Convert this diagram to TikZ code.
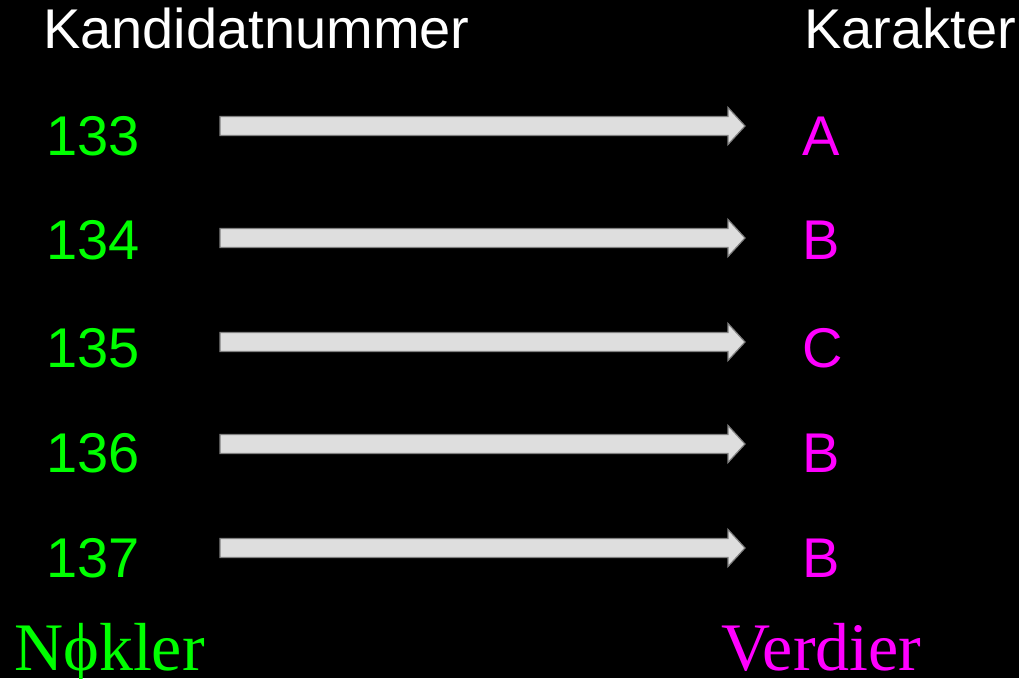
\documentclass[tikz,border=0pt]{standalone}
\usepackage{fontspec}
\setmainfont{Liberation Sans}
\newfontfamily\serifface{Liberation Serif}
\usetikzlibrary{calc}
\definecolor{keygreen}{RGB}{0,255,0}
\definecolor{valpink}{RGB}{255,0,255}
\definecolor{arrowfill}{RGB}{222,222,222}
\definecolor{arrowedge}{RGB}{128,128,128}
\tikzset{
  header/.style={anchor=base west, inner sep=0pt, text=white, font=\fontsize{56}{60}\selectfont},
  keytext/.style={anchor=base west, inner sep=0pt, text=keygreen, font=\fontsize{56}{60}\selectfont},
  valtext/.style={anchor=base west, inner sep=0pt, text=valpink, font=\fontsize{56}{60}\selectfont},
  biglabel/.style={anchor=base west, inner sep=0pt, font=\serifface\fontsize{68}{72}\selectfont},
  fatarrow/.style={fill=arrowfill, draw=arrowedge, line width=1.2pt, line join=miter}
}
\begin{document}
\begin{tikzpicture}[x=1pt,y=-1pt]
\fill[black] (0,0) rectangle (1019,678);
\useasboundingbox (0,0) rectangle (1019,678);
\node[header] (hk) at (43,48) {Kandidatnummer};
\node[header] (hv) at (804,48) {Karakter};
\foreach \n/\v/\b/\c [count=\i] in {133/A/155/126, 134/B/259/238, 135/C/367/342, 136/B/472/444, 137/B/577/548}{
  \node[keytext] (k\i) at (46,\b) {\n};
  \node[valtext] (v\i) at (802,\b) {\v};
  \coordinate (s\i) at (220,\c);
  \coordinate (t\i) at (745,\c);
  \draw[fatarrow] ($(s\i)+(0,-9.5)$) -- ($(t\i)+(-17,-9.5)$) -- ($(t\i)+(-17,-18.5)$) -- (t\i)
    -- ($(t\i)+(-17,18.5)$) -- ($(t\i)+(-17,9.5)$) -- ($(s\i)+(0,9.5)$) -- cycle;
}
\node[biglabel, text=keygreen] (nk) at (14,670) {Nϕkler};
\node[biglabel, text=valpink] (nv) at (721,670) {Verdier};
\end{tikzpicture}
\end{document}
